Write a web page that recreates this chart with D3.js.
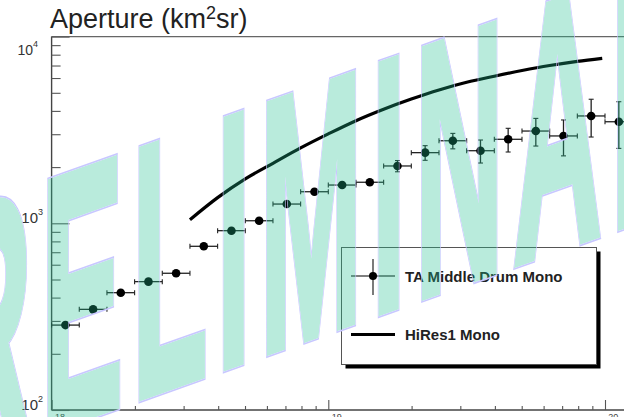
<!DOCTYPE html>
<html>
<head>
<meta charset="utf-8">
<script src="https://cdn.jsdelivr.net/npm/d3@7"></script>
<style>
body { margin: 0; background: #fff; }
svg { display: block; }
</style>
</head>
<body>
<div id="canvas"></div>
<script>
var WIDTH = 624, HEIGHT = 417;
var FONT = '"Liberation Sans", Arial, Helvetica, sans-serif';

// TA Middle Drum mono: bin centres in log10(E/eV), aperture in km2 sr
var taLogE = [18.05, 18.15, 18.25, 18.35, 18.45, 18.55, 18.65, 18.75, 18.85, 18.95,
              19.05, 19.15, 19.25, 19.35, 19.45, 19.55, 19.65, 19.75, 19.85, 19.95, 20.05];
var taAperture = [285, 346, 425, 487, 540, 753, 913, 1032, 1268, 1476,
                  1603, 1659, 2028, 2390, 2768, 2448, 2818, 3120, 2937, 3758, 3499];
var taError = [5, 6, 8, 9, 10, 14, 17, 20, 25, 30,
               40, 90, 140, 215, 263, 345, 409, 527, 640, 860, 980];
var binHalfWidth = 0.05;

// HiRes1 mono aperture
var hiresLogE = [18.5, 18.6, 18.7, 18.8, 18.9, 19.0, 19.1, 19.2,
                 19.3, 19.4, 19.5, 19.6, 19.7, 19.8, 19.9, 19.99];
var hiresAperture = [1045, 1372, 1730, 2095, 2533, 3011, 3545, 4083,
                     4628, 5180, 5692, 6134, 6579, 7000, 7371, 7650];

var yDecades = [1e2, 1e3, 1e4];
var yExponents = ['2', '3', '4'];
var xDecades = [1e18, 1e19, 1e20];
var xExponents = ['18', '19', '20'];

var LEFT = 51.6, BOTTOM = 410, TOP = 36.6;

var x = d3.scaleLog().domain([1e18, 1e20]).range([LEFT, 605]);
var y = d3.scaleLog().domain([1e2, 1e4]).range([BOTTOM, TOP]);

var svg = d3.select('#canvas').append('svg')
    .attr('width', WIDTH)
    .attr('height', HEIGHT)
    .style('font-family', FONT);

svg.append('rect').attr('width', WIDTH).attr('height', HEIGHT).attr('fill', '#fff');

// frame
svg.append('line')
    .attr('x1', LEFT).attr('x2', WIDTH + 5).attr('y1', TOP).attr('y2', TOP)
    .attr('stroke', '#666').attr('stroke-width', 1.2);
svg.append('line')
    .attr('x1', LEFT).attr('x2', LEFT).attr('y1', TOP).attr('y2', BOTTOM)
    .attr('stroke', '#444').attr('stroke-width', 1.4);
svg.append('line')
    .attr('x1', LEFT).attr('x2', WIDTH + 5).attr('y1', BOTTOM).attr('y2', BOTTOM)
    .attr('stroke', '#444').attr('stroke-width', 1.4);

// y ticks: minor and major drawn with two axis passes
var yMinor = y.ticks().filter(function(t) { return yDecades.indexOf(t) < 0; });
svg.append('g').attr('class', 'yminor')
    .attr('transform', 'translate(' + LEFT + ',0)')
    .call(d3.axisRight(y).tickValues(yMinor).tickSize(9).tickSizeOuter(0).tickFormat(''));
svg.append('g').attr('class', 'ymajor')
    .attr('transform', 'translate(' + LEFT + ',0)')
    .call(d3.axisRight(y).tickValues(yDecades).tickSize(18).tickSizeOuter(0).tickFormat(''));

var xMinor = x.ticks().filter(function(t) { return xDecades.indexOf(t) < 0; });
svg.append('g').attr('class', 'xminor')
    .attr('transform', 'translate(0,' + BOTTOM + ')')
    .call(d3.axisTop(x).tickValues(xMinor).tickSize(4).tickSizeOuter(0).tickFormat(''));
svg.append('g').attr('class', 'xmajor')
    .attr('transform', 'translate(0,' + BOTTOM + ')')
    .call(d3.axisTop(x).tickValues(xDecades).tickSize(10).tickSizeOuter(0).tickFormat(''));

svg.selectAll('.domain').remove();
svg.selectAll('.tick line').attr('stroke', '#555').attr('stroke-width', 1.1);

// y tick labels 10^n
for (var i = 0; i < yDecades.length; ++i) {
    var ty = Math.max(y(yDecades[i]), 55);
    var tx = i == yDecades.length - 1 ? 38 : 43;
    var lab = svg.append('text')
        .attr('x', tx)
        .attr('y', ty)
        .attr('text-anchor', 'end')
        .attr('fill', '#333')
        .style('font-size', i == yDecades.length - 1 ? '14px' : '15px');
    lab.append('tspan').text('10');
    lab.append('tspan').attr('dy', -8).style('font-size', '9px').text(yExponents[i]);
}

// x tick labels, mostly below the picture edge (as in the original)
for (var i = 0; i < xDecades.length; ++i) {
    var lab = svg.append('text')
        .attr('x', x(xDecades[i]))
        .attr('y', 428)
        .attr('text-anchor', 'middle')
        .attr('fill', '#444')
        .style('font-size', '15px');
    lab.append('tspan').text('10');
    lab.append('tspan').attr('dy', -8).style('font-size', '9px').text(xExponents[i]);
}

// title
var title = svg.append('text')
    .attr('x', 50)
    .attr('y', 28)
    .attr('fill', '#222')
    .style('font-size', '27px')
    .text('Aperture (km');
title.append('tspan').attr('dy', -9).style('font-size', '18px').text('2');
title.append('tspan').attr('dy', 9).text('sr)');

// HiRes1 curve
var hiresData = hiresLogE.map(function(d, k) { return [d, hiresAperture[k]]; });
var line = d3.line()
    .x(function(d) { return x(Math.pow(10, d[0])); })
    .y(function(d) { return y(d[1]); })
    .curve(d3.curveMonotoneX);
svg.append('path')
    .attr('d', line(hiresData))
    .attr('fill', 'none')
    .attr('stroke', '#000')
    .attr('stroke-width', 3.2);

// TA points with error bars
var pts = svg.append('g');
for (var k = 0; k < taLogE.length; ++k) {
    var cx = x(Math.pow(10, taLogE[k]));
    var cy = y(taAperture[k]);
    var xl = x(Math.pow(10, taLogE[k] - binHalfWidth));
    var xr = x(Math.pow(10, taLogE[k] + binHalfWidth));
    var yt = y(taAperture[k] + taError[k]);
    var yb = y(taAperture[k] - taError[k]);

    pts.append('line')
        .attr('x1', xl).attr('x2', xr).attr('y1', cy).attr('y2', cy)
        .attr('stroke', '#222').attr('stroke-width', 1.3);
    [xl, xr].forEach(function(ex) {
        pts.append('line')
            .attr('x1', ex).attr('x2', ex).attr('y1', cy - 2.5).attr('y2', cy + 2.5)
            .attr('stroke', '#222').attr('stroke-width', 1.1);
    });
    if (cy - yt > 4.5) {
        pts.append('line')
            .attr('x1', cx).attr('x2', cx).attr('y1', yt).attr('y2', yb)
            .attr('stroke', '#222').attr('stroke-width', 1.3);
        [yt, yb].forEach(function(ey) {
            pts.append('line')
                .attr('x1', cx - 2.5).attr('x2', cx + 2.5).attr('y1', ey).attr('y2', ey)
                .attr('stroke', '#222').attr('stroke-width', 1.1);
        });
    }
    pts.append('circle')
        .attr('cx', cx).attr('cy', cy).attr('r', 4.3)
        .attr('fill', '#000');
}

// legend
var leg = svg.append('g');
leg.append('rect')
    .attr('x', 345.5).attr('y', 251.5).attr('width', 255).attr('height', 117)
    .attr('fill', '#000');
leg.append('rect')
    .attr('x', 341.5).attr('y', 247.5).attr('width', 255).attr('height', 117)
    .attr('fill', '#fff').attr('stroke', '#555').attr('stroke-width', 1);
leg.append('line')
    .attr('x1', 351).attr('x2', 395).attr('y1', 276).attr('y2', 276)
    .attr('stroke', '#555').attr('stroke-width', 1.3);
leg.append('line')
    .attr('x1', 373).attr('x2', 373).attr('y1', 259).attr('y2', 295)
    .attr('stroke', '#333').attr('stroke-width', 1.3);
leg.append('circle')
    .attr('cx', 373).attr('cy', 276).attr('r', 4)
    .attr('fill', '#000');
leg.append('text')
    .attr('x', 405).attr('y', 281.5)
    .attr('fill', '#222')
    .style('font-size', '15px').style('font-weight', 'bold')
    .text('TA Middle Drum Mono');
leg.append('line')
    .attr('x1', 351).attr('x2', 395).attr('y1', 334.5).attr('y2', 334.5)
    .attr('stroke', '#000').attr('stroke-width', 3);
leg.append('text')
    .attr('x', 405).attr('y', 339.5)
    .attr('fill', '#222')
    .style('font-size', '15px').style('font-weight', 'bold')
    .text('HiRes1 Mono');

// PRELIMINARY watermark: sheared, squeezed, emboldened with a stroke,
// translucent teal body and an opaque lavender rim
var WM_TRANSFORM = 'translate(-148.2,500.1) skewY(-19.6) scale(0.3426,1)';
var WM_BODY = 6, WM_RIM = 8.6;

function watermark(sel, fill, stroke, width) {
    return sel.append('text')
        .attr('transform', WM_TRANSFORM)
        .attr('fill', fill)
        .attr('stroke', stroke)
        .attr('stroke-width', width)
        .attr('stroke-linejoin', 'miter')
        .attr('vector-effect', 'non-scaling-stroke')
        .style('font-size', '359px')
        .style('font-weight', 'bold')
        .style('letter-spacing', '26.8px')
        .text('PRELIMINARY');
}

var mask = svg.append('defs').append('mask')
    .attr('id', 'wmHole')
    .attr('maskUnits', 'userSpaceOnUse')
    .attr('x', -50).attr('y', -50).attr('width', WIDTH + 100).attr('height', HEIGHT + 100);
mask.append('rect')
    .attr('x', -50).attr('y', -50).attr('width', WIDTH + 100).attr('height', HEIGHT + 100)
    .attr('fill', '#fff');
watermark(mask, '#000', '#000', WM_BODY);

watermark(svg.append('g').attr('opacity', 0.31), 'rgb(32,194,145)', 'rgb(32,194,145)', WM_BODY);
watermark(svg.append('g').attr('mask', 'url(#wmHole)'), '#c8c8ff', '#c8c8ff', WM_RIM);
</script>
</body>
</html>
